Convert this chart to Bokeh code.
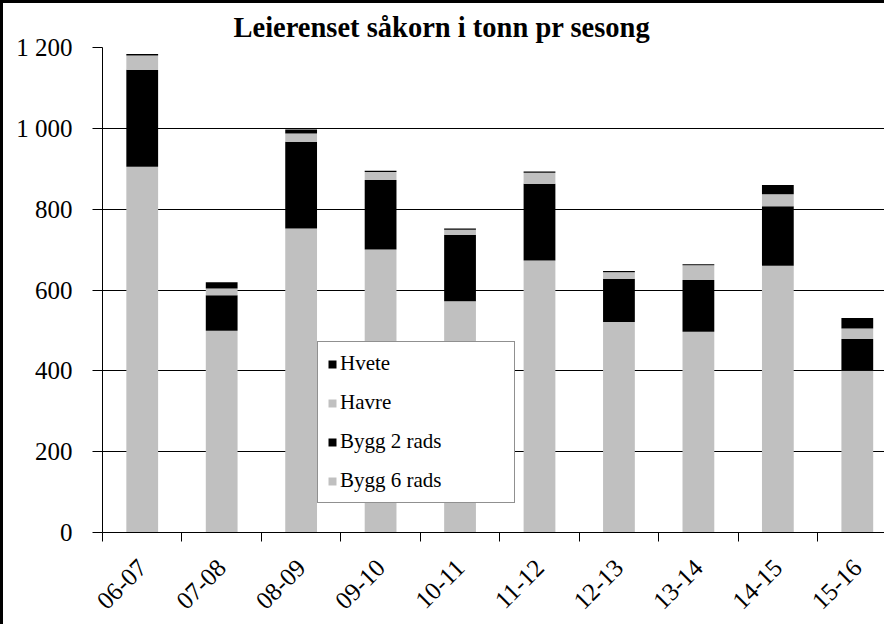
import math
import numpy as np
from bokeh.plotting import figure
from bokeh.models import (ColumnDataSource, Range1d, FixedTicker, Legend, LegendItem)
from bokeh.embed import file_html
from bokeh.resources import INLINE

# ---- data ----
seasons = ["06-07", "07-08", "08-09", "09-10", "10-11", "11-12", "12-13", "13-14", "14-15", "15-16"]
bygg6 = [905, 499, 752, 700, 572, 673, 521, 497, 660, 400]
bygg2 = [240, 88, 215, 172, 165, 190, 107, 128, 147, 79]
havre = [35, 17, 20, 20, 12, 27, 16, 36, 30, 26]
hvete = [4, 15, 10, 3, 3, 3, 3, 3, 23, 26]
series_names = ["Bygg 6 rads", "Bygg 2 rads", "Havre", "Hvete"]
series_colors = ["#C0C0C0", "#000000", "#C0C0C0", "#000000"]
y_ticks = [0, 200, 400, 600, 800, 1000, 1200]
title_text = "Leierenset såkorn i tonn pr sesong"

FONT = "Liberation Serif"

centers = (np.arange(len(seasons)) + 0.5).tolist()
source = ColumnDataSource(dict(x=centers, b6=bygg6, b2=bygg2, ha=havre, hv=hvete))
keys = ["b6", "b2", "ha", "hv"]

p = figure(width=884, height=624, output_backend="svg", toolbar_location=None,
           x_range=Range1d(0, 9.88), y_range=Range1d(0, 1200),
           min_border_left=99, min_border_top=44, min_border_bottom=95, min_border_right=0,
           title=title_text)
p.styles = {"border-left": "3px solid black", "border-top": "3px solid black"}

p.title.text_font = FONT
p.title.text_font_size = "28.5px"
p.title.text_font_style = "bold"
p.title.align = "left"
p.title.offset = 131
p.title.standoff = 10
p.title.text_color = "black"

renderers = p.vbar_stack(keys, x="x", width=0.4, source=source,
                         color=series_colors, line_color=None)

p.outline_line_color = None
p.background_fill_color = "white"
p.border_fill_color = "white"

# y axis
p.yaxis.ticker = FixedTicker(ticks=y_ticks, minor_ticks=[])
p.yaxis.major_label_overrides = {v: f"{v:,}".replace(",", " ") for v in y_ticks}
p.yaxis.major_label_text_font = FONT
p.yaxis.major_label_text_font_size = "25px"
p.yaxis.major_label_text_color = "black"
p.yaxis.major_tick_out = 10
p.yaxis.major_tick_in = 0
p.yaxis.major_tick_line_color = "black"
p.yaxis.axis_line_color = "black"
p.yaxis.major_label_standoff = 20

# x axis
p.xaxis.ticker = FixedTicker(ticks=centers, minor_ticks=list(range(len(seasons))))
p.xaxis.major_label_overrides = {c: s for c, s in zip(centers, seasons)}
p.xaxis.major_label_orientation = math.pi / 4
p.xaxis.major_label_text_font = FONT
p.xaxis.major_label_text_font_size = "25px"
p.xaxis.major_label_text_color = "black"
p.xaxis.major_tick_line_color = None
p.xaxis.minor_tick_line_color = "black"
p.xaxis.minor_tick_out = 9
p.xaxis.minor_tick_in = 0
p.xaxis.axis_line_color = "black"
p.xaxis.major_label_standoff = 22

p.xgrid.grid_line_color = None
p.ygrid.grid_line_color = "black"
p.ygrid.grid_line_width = 1

items = [LegendItem(label=n, renderers=[r]) for n, r in zip(series_names, renderers)][::-1]
legend = Legend(items=items, location=(215, 29))
legend.label_text_font = FONT
legend.label_text_font_size = "21px"
legend.label_text_color = "black"
legend.glyph_width = 10
legend.glyph_height = 10
legend.label_standoff = 3
legend.label_height = 24
legend.label_width = 165
legend.padding = 9
legend.spacing = 14
legend.border_line_color = "#222222"
legend.border_line_width = 1
legend.background_fill_color = "white"
legend.background_fill_alpha = 1.0
p.add_layout(legend)

open("out.html", "w").write(file_html(p, INLINE))
